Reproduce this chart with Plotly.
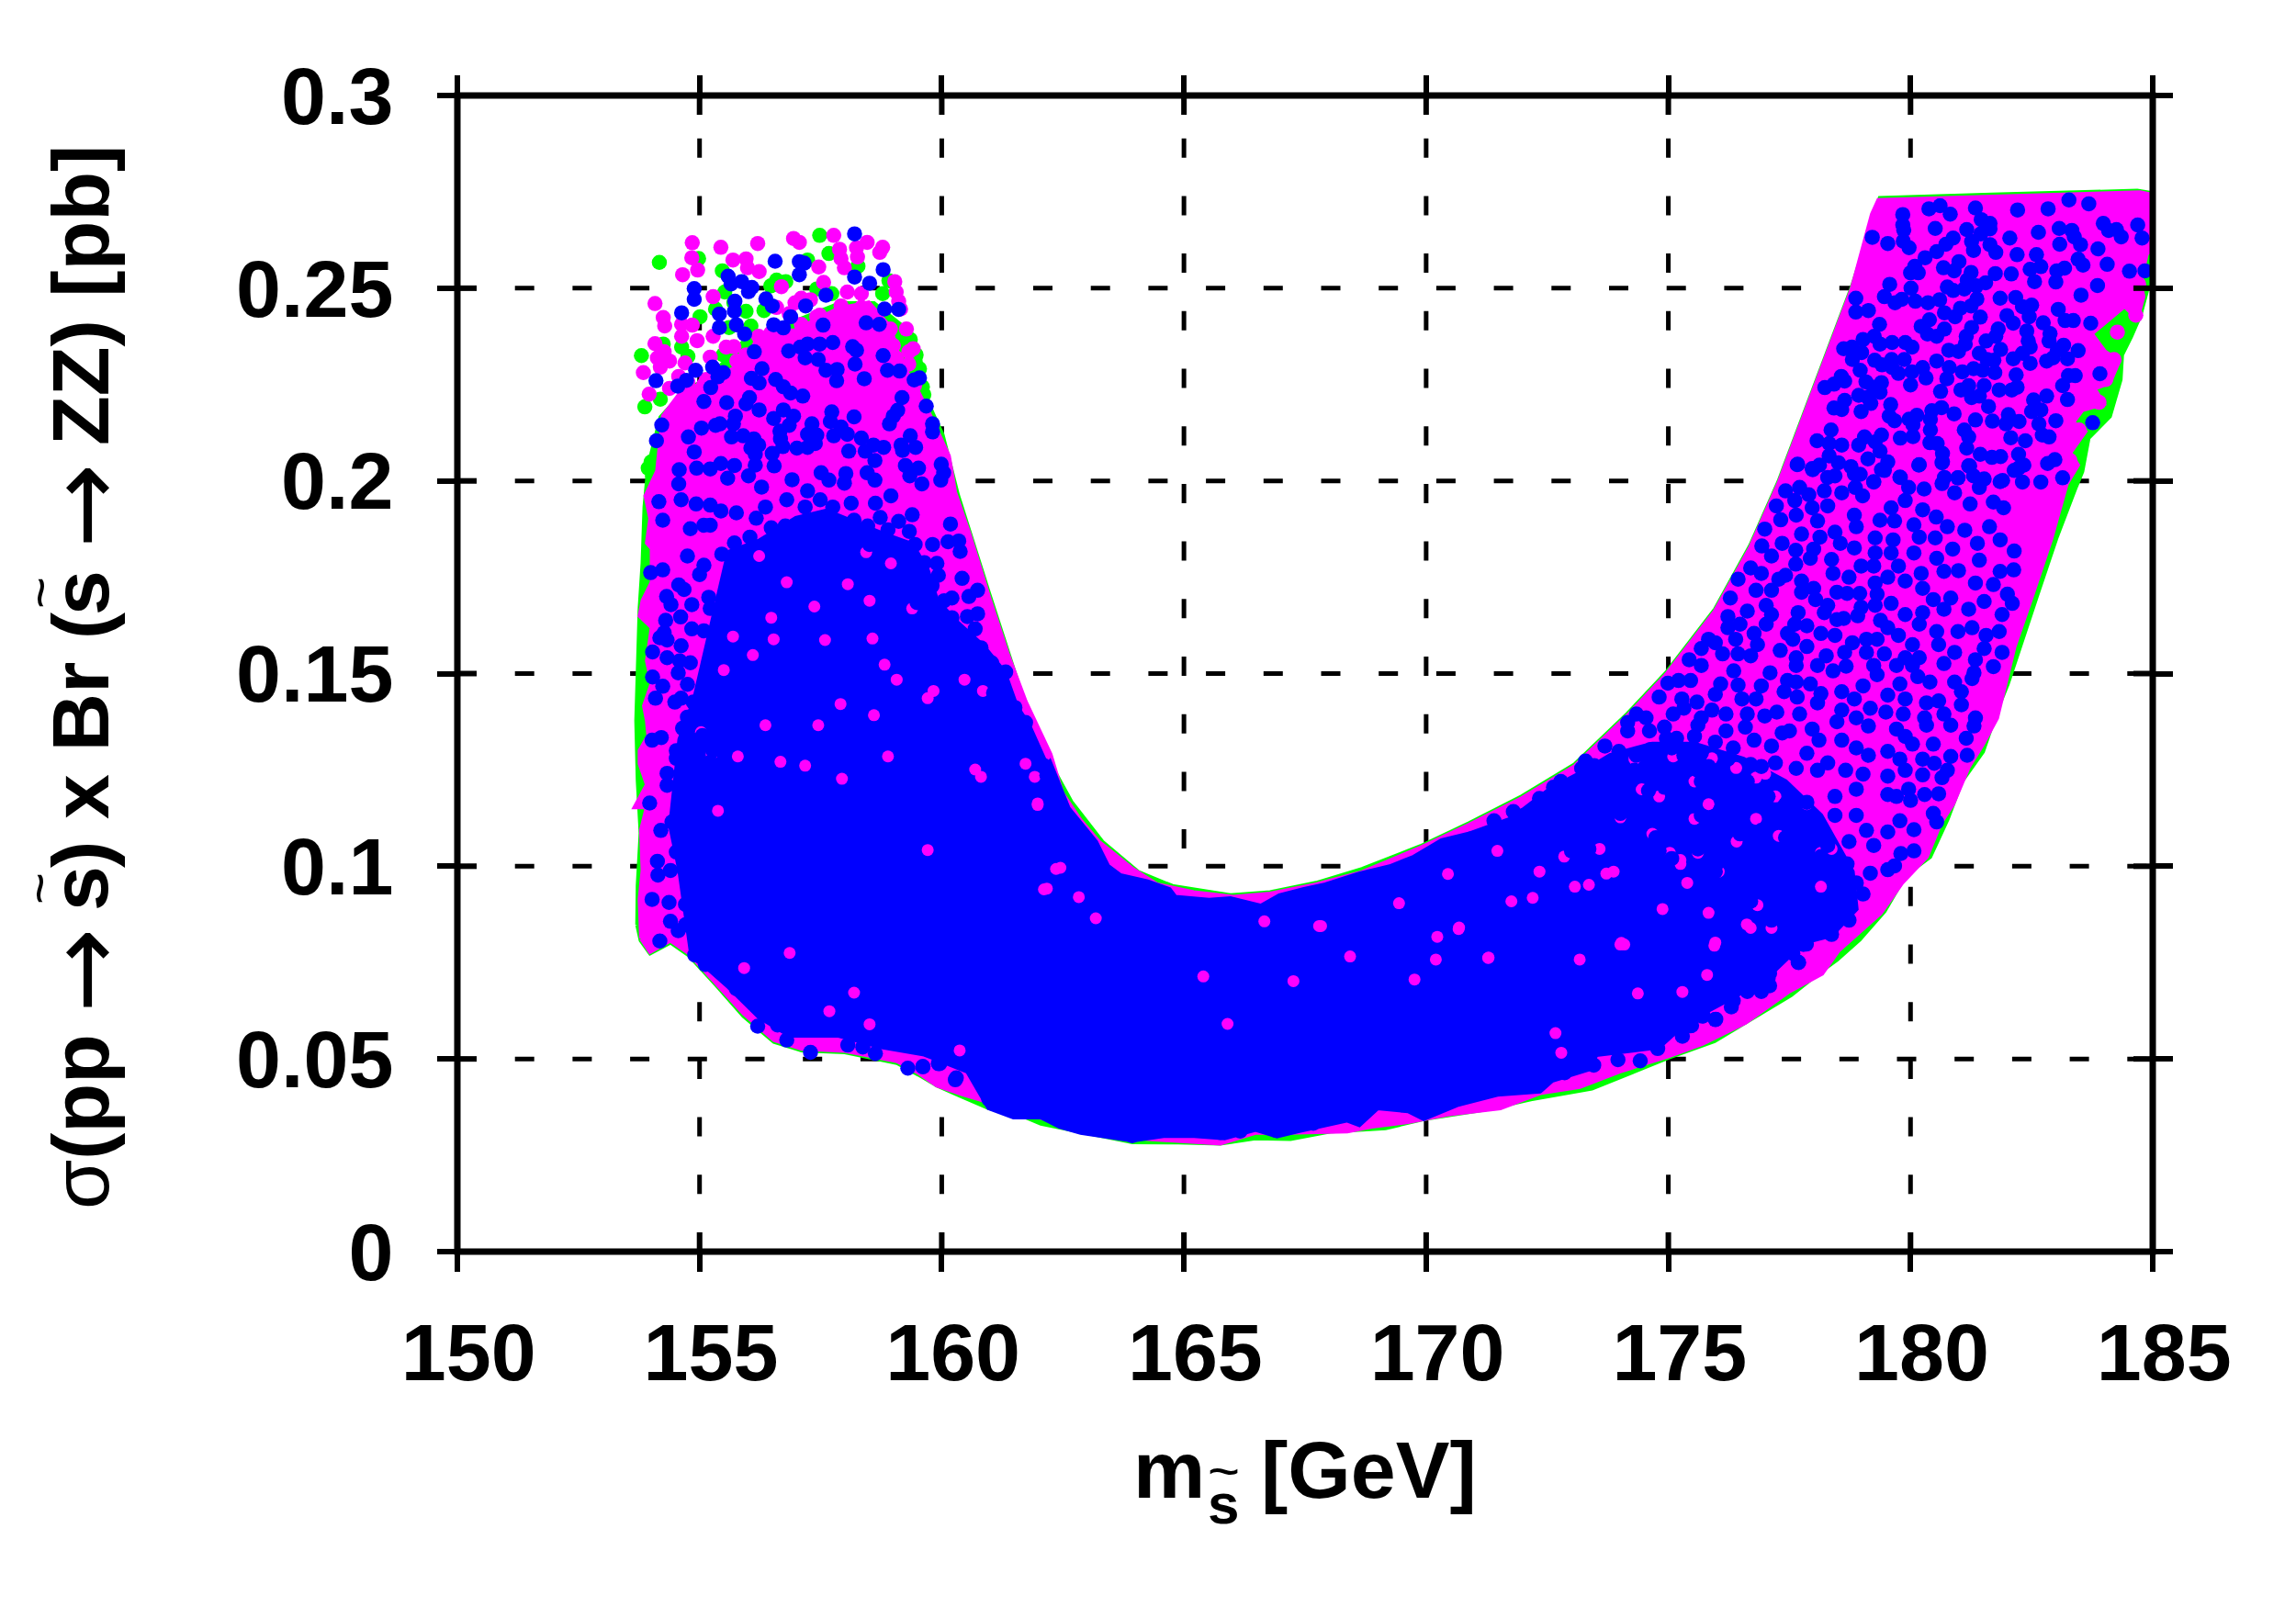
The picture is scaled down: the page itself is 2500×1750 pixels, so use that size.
import plotly.graph_objects as go

x_ticks = [150, 155, 160, 165, 170, 175, 180, 185]
y_ticks = [0, 0.05, 0.1, 0.15, 0.2, 0.25, 0.3]
y_tick_text = ["0", "0.05", "0.1", "0.15", "0.2", "0.25", "0.3"]

green_hull = [(153.72,.0848),(153.73,.095),(153.79,.1086),(153.73,.1223),(153.7,.1377),(153.73,.1541),(153.77,.167),(153.83,.1787),(153.87,.1932),(153.95,.204),(154.2,.2165),(154.6,.222),(155.3,.228),(155.9,.236),(156.9,.241),(157.9,.246),(158.6,.246),(159.2,.24),(159.55,.232),(159.63,.2224),(160.01,.212),(160.2,.2025),(160.33,.1962),(160.97,.1708),(161.48,.1504),(161.79,.1389),(162.29,.1254),(162.67,.1167),(163.31,.1063),(164.06,.0984),(164.76,.0948),(165.96,.0924),(166.78,.0932),(167.73,.0956),(168.68,.0992),(169.88,.1051),(170.89,.1111),(171.98,.1181),(173.07,.1264),(174.16,.1395),(174.96,.1502),(175.97,.1667),(176.7,.1833),(177.28,.1998),(178.8,.2505),(179.37,.2733),(181.68,.2742),(184.68,.2752),(185.09,.2744),(185.1,.2641),(185.06,.2581),(184.74,.243),(184.55,.2375),(184.36,.2327),(184.33,.2263),(184.11,.2168),(183.67,.2112),(183.54,.2025),(183.41,.1985),(183.0,.185),(182.6,.17),(182.25,.157),(182,.1473),(181.78,.1405),(181.49,.1298),(181.05,.122),(180.76,.1123),(180.4,.1025),(179.89,.0977),(179.46,.0884),(178.95,.0811),(178.48,.0758),(178.17,.073),(177.53,.0666),(176.59,.0595),(175.95,.0547),(175,.0504),(174.18,.0464),(173.42,.0424),(172.16,.0396),(171.21,.0369),(169.95,.0345),(169.16,.0321),(168.05,.0313),(167.2,.0293),(166.47,.0295),(165.75,.0281),(164.89,.0284),(163.94,.0285),(163.31,.0301),(162.68,.0317),(162.05,.0333),(161.67,.0353),(160.97,.0373),(160.4,.0404),(159.9,.0432),(159.52,.046),(159.08,.049),(158,.0518),(157.11,.0523),(156.54,.0545),(155.91,.0612),(155.35,.0692),(154.78,.077),(154.4,.0803),(153.98,.0775),(153.79,.0808)]

green_points = [(154.17,.2567),(157.48,.2637),(157.67,.259),(154.98,.2577),(155.47,.2545),(157.23,.2573),(156.59,.2521),(156.78,.2517),(156.47,.2506),(155.52,.249),(155.71,.2462),(155.33,.2446),(155.96,.244),(155.01,.2426),(155.61,.2398),(156.06,.2402),(154.63,.2347),(154.76,.2323),(154.25,.2355),(153.8,.2325),(155.49,.2327),(153.87,.2192),(154.19,.2212),(158.78,.2486),(158.27,.2557),(158.91,.2519),(157.42,.2498),(157.73,.2486),(158.62,.2426),(159.35,.2367),(159.47,.2327),(159.54,.2291),(159.6,.2244),(159.63,.2224),(154,.2049),(153.94,.2033),(154.03,.2013),(156.33,.2442)]

magenta_hull = [(153.8,.0813),(153.77,.0915),(153.83,.0989),(153.8,.1095),(153.92,.1154),(153.67,.1154),(153.92,.1212),(153.77,.1266),(153.77,.13),(153.95,.1339),(153.92,.1378),(153.86,.1416),(154.02,.1475),(153.92,.1533),(154.02,.162),(153.77,.165),(153.83,.1689),(154.02,.1737),(154.02,.1825),(153.92,.1839),(153.99,.1903),(153.89,.1961),(154.13,.2025),(154.25,.2168),(154.63,.2232),(155.14,.2256),(155.77,.2295),(156.03,.2319),(156.22,.2383),(156.97,.239),(157.86,.2446),(158.49,.2462),(158.94,.2398),(159.13,.2311),(159.44,.2248),(159.76,.2168),(160.14,.2065),(160.27,.197),(160.56,.1864),(160.75,.1786),(160.97,.1698),(161.35,.1553),(161.73,.1426),(162.24,.129),(162.48,.119),(162.86,.1119),(163.24,.1063),(163.94,.0992),(164.44,.0952),(165.2,.0932),(166.02,.092),(166.78,.0928),(167.73,.0952),(168.68,.0984),(169.88,.1047),(170.89,.1107),(171.98,.1176),(173.07,.1259),(174.16,.139),(174.96,.1497),(175.97,.1662),(176.7,.1828),(177.28,.1993),(178.8,.2501),(179.21,.2692),(179.34,.2728),(182.28,.2738),(184.74,.2748),(185.06,.274),(185.09,.2613),(184.87,.2589),(184.74,.2517),(184.8,.2478),(184.68,.2422),(184.42,.2454),(183.98,.2406),(183.73,.2382),(184.01,.2335),(184.3,.2311),(184.11,.2255),(183.79,.224),(183.98,.22),(183.54,.2184),(183.35,.2152),(183.6,.2128),(183.29,.2073),(183.45,.2041),(183.22,.1993),(182.9,.185),(182.5,.17),(182.14,.157),(181.78,.1385),(181.49,.1317),(181.2,.1259),(180.87,.1161),(180.62,.1113),(180.33,.1025),(179.82,.0957),(179.38,.0879),(178.51,.0782),(178.17,.0722),(177.47,.0674),(176.59,.0595),(175.7,.054),(175,.0508),(173.99,.0468),(173.17,.0428),(172.35,.0412),(171.53,.0373),(170.45,.0357),(169.63,.0337),(168.88,.0325),(168.37,.0313),(167.1,.0309),(166.47,.0309),(165.75,.0281),(165.3,.0285),(164.26,.0293),(163.3,.031),(162.4,.0335),(161.6,.0365),(160.9,.039),(160.4,.041),(159.9,.0432),(159.52,.0465),(159.08,.0495),(158,.0522),(157.11,.0527),(156.54,.055),(155.91,.0619),(155.35,.0698),(154.78,.0775),(154.4,.0808),(153.98,.0779)]

magenta_points = [(154.85,.2618),(155.44,.2606),(156.2,.2616),(156.94,.2629),(157.06,.2619),(157.77,.2637),(154.84,.2579),(154.96,.2547),(154.65,.2535),(155.69,.2573),(155.96,.2576),(156.23,.2543),(155.99,.2553),(157.89,.2601),(157.92,.2577),(157.99,.2553),(158.26,.2581),(158.46,.2619),(158.24,.2605),(158.78,.2606),(158.72,.2593),(157.46,.2555),(157.56,.2515),(156.69,.2504),(159.03,.2517),(159.06,.249),(159.11,.2466),(159.15,.2446),(154.08,.246),(155.28,.2478),(154.25,.2424),(154.28,.2402),(154.63,.2406),(154.85,.2404),(154.63,.2375),(154.95,.2364),(155.28,.2375),(154.08,.2356),(154.27,.2335),(153.84,.2281),(153.96,.2225),(154.28,.2315),(154.7,.2306),(155.22,.2321),(155.55,.2347),(155.71,.2348),(159.27,.2394),(159.32,.2335),(159.41,.2343),(158.94,.2394),(158.05,.249),(158.34,.2486),(157.1,.2474),(156.97,.2462),(157.29,.247),(157.92,.2454),(158.34,.245),(156.59,.245),(157.42,.2426),(156.85,.2434),(155.77,.2311),(155.96,.2327),(156.22,.2375),(156.47,.2383),(156.34,.2351),(155.46,.2256),(155.14,.2263),(154.76,.2256),(154.38,.224),(154.19,.2295),(154.13,.2319),(154.38,.2311),(154.57,.2271),(155.08,.2248),(157.1,.2406),(157.48,.243),(158.18,.2422),(158.75,.2359),(159,.2351),(159.06,.2319),(159.32,.2303),(159.44,.2248),(184.65,.243),(184.27,.2386),(184.2,.2315),(183.89,.2204),(184.03,.2263),(183.48,.2132),(183.29,.2053),(184.71,.251)]

blue_core = [(155.6,.1815),(156.23,.1844),(156.99,.1903),(157.62,.1922),(158.76,.1864),(159.39,.1835),(159.71,.1767),(159.9,.1689),(160.34,.163),(160.85,.1572),(161.29,.1504),(161.54,.1416),(161.79,.1368),(162.17,.1261),(162.23,.127),(162.61,.1151),(163.18,.1063),(163.43,.1),(163.69,.0976),(164.25,.096),(164.7,.094),(164.82,.092),(165.52,.0912),(165.96,.0916),(166.59,.0897),(166.97,.0924),(167.48,.094),(167.92,.0952),(168.62,.098),(169.25,.0999),(169.75,.1024),(170.32,.1067),(170.89,.1084),(172.71,.1064),(173.43,.1006),(174.67,.0967),(175.61,.0909),(176.55,.0831),(176.95,.075),(176.2,.0651),(175.51,.0643),(175,.0595),(174.63,.0531),(173.55,.0531),(173.42,.0476),(172.6,.0444),(172.35,.0416),(171.47,.0408),(170.64,.0381),(169.95,.0345),(169.63,.0365),(169,.0373),(168.62,.0329),(168.37,.0341),(167.36,.0313),(166.92,.03),(166.47,.0317),(165.84,.0295),(165.21,.0301),(164.58,.0301),(163.94,.0289),(163.44,.0297),(162.87,.0309),(162.43,.0325),(162.05,.0349),(161.48,.0349),(160.97,.0373),(160.53,.0468),(159.64,.0512),(158.76,.0531),(157.87,.0561),(156.86,.0561),(156.23,.0609),(155.6,.0687),(155.16,.0736),(154.84,.0765),(154.59,.0989),(154.4,.1105),(154.59,.1329),(154.9,.1436),(155.16,.1572)]

blue_shoulder = [(170.89,.1084),(171.76,.1123),(172.56,.12),(173.29,.1249),(173.8,.1288),(174.67,.1317),(175.54,.1317),(176.55,.1278),(177.42,.122),(178.15,.1132),(178.8,.0986),(178.88,.0889),(178.37,.0821),(177.79,.0802),(177.06,.0714),(176.41,.0665),(175.39,.0597),(174.81,.0531),(172.8,.05),(171,.08)]

magenta_gaps = [(156.23,.1805),(157.37,.1674),(156.48,.1645),(156.8,.1737),(158.06,.1732),(158.51,.1689),(158.95,.1786),(158.44,.1815),(155.69,.1596),(156.53,.1589),(157.59,.1587),(159.39,.1669),(155.5,.1509),(156.1,.1548),(158.57,.1591),(158.82,.1523),(159.07,.1484),(159.83,.1455),(159.71,.1436),(160.47,.1484),(160.85,.1455),(158.6,.1392),(157.91,.1421),(157.45,.1366),(156.36,.1366),(155.03,.1348),(155.25,.129),(155.79,.1285),(157.18,.1261),(156.67,.1271),(157.94,.1227),(158.89,.1285),(160.69,.1251),(160.81,.1232),(161.73,.1266),(161.92,.1232),(161.98,.1159),(159.71,.1042),(162.36,.0993),(162.17,.0942),(158.19,.0672),(157.68,.0624),(158.51,.059),(155.92,.0736),(155.38,.1144),(160.37,.0522),(156.86,.0775),(162.11,.094),(162.45,.0996),(163.18,.0865),(161.98,.1163),(167.79,.0845),(169.44,.0904),(170.45,.098),(170.67,.0837),(166.66,.0857),(170.23,.0817),(162.83,.092),(165.9,.0591),(168.43,.0766),(167.26,.0702),(167.83,.0845),(165.4,.0714),(170.68,.0841),(171.28,.0762),(174.03,.0801),(172.79,.0516),(174.37,.067),(175.29,.0674),(176.62,.0849),(170.2,.0758),(169.76,.0706),(172.67,.0567),(173.17,.0758),(175.95,.0794),(175.8,.0718),(172.2,.0918),(176.04,.0986),(173.72,.0981),(173.36,.0952),(171.29,.0763),(174.01,.0797),(175.83,.0879),(176.84,.0899),(175.25,.1016),(173.07,.1125),(173.58,.1045),(172.85,.1025),(171.47,.104),(174.01,.1127),(174.45,.12),(174.81,.1181),(174.67,.1084),(175.61,.1035),(176.41,.1064),(175.25,.1006),(175.03,.1035),(175.83,.1161),(176.81,.123),(177.21,.1181),(176.81,.1123),(177.28,.1079),(177.86,.1161),(178.15,.1035),(178.58,.121),(178.69,.1132),(178.37,.1045),(178.15,.0947),(177.79,.0986),(177.13,.084),(176.7,.084),(175.97,.0802),(174.09,.0797),(174.88,.0889),(173.87,.0986),(175.39,.0957),(172.34,.0986),(171.76,.0909),(173.07,.0947),(175.54,.1123),(175.54,.122),(174.3,.1278),(175.1,.1285),(175.9,.128),(176.4,.1255),(177,.124)]

blue_upper_left = [(158.2,.2641),(156.56,.257),(157.06,.2569),(157.16,.2565),(157.06,.2535),(158.79,.2548),(158.2,.2529),(158.51,.2513),(155.59,.2531),(155.65,.2511),(155.87,.2517),(156.08,.2502),(156.01,.2491),(154.89,.2499),(154.89,.2471),(156.37,.2472),(156.5,.2454),(155.73,.2466),(155.72,.244),(157.61,.2482),(157.19,.2454),(154.63,.2436),(155.41,.2433),(155.41,.2398),(155.76,.2405),(155.93,.2381),(156.88,.2426),(156.53,.2405),(156.73,.2397),(157.55,.2404),(158.44,.241),(158.71,.2406),(158.82,.2446),(159.11,.2445),(156.13,.2335),(156.84,.2337),(157.08,.2347),(157.23,.2355),(157.48,.2355),(157.75,.2359),(158.16,.2348),(158.24,.2339),(158.79,.2325),(157.18,.2319),(157.45,.2315),(157.61,.2287),(157.84,.2289),(157.83,.226),(158.21,.2303),(158.4,.2265),(158.88,.2287),(159.13,.2285),(159.43,.2262),(159.54,.2267),(154.92,.2287),(155.27,.2295),(155.49,.2281),(155.38,.227),(155.23,.2242),(154.73,.2261),(154.55,.2246),(154.1,.226),(156.29,.2291),(156.07,.2266),(156.23,.2254),(156.57,.2263),(156.73,.2244),(156.88,.2228),(157.13,.222),(159.18,.2216),(159.68,.2194),(159.09,.2183),(159,.2168),(158.92,.2148),(159.81,.2148),(159.81,.2127),(155.09,.2206),(155.56,.2203),(156.03,.2216),(155.96,.22),(156.23,.2184),(155.74,.2168),(155.7,.2148),(156.53,.2162),(156.73,.2184),(156.94,.2168),(156.85,.2144),(157.73,.2179),(157.7,.2154),(158.19,.2166),(157.32,.2148),(154.22,.2145),(154.11,.2104),(154.77,.2114),(155.04,.2137),(155.33,.2144),(155.42,.2148),(155.66,.2114),(155.9,.2117),(156.12,.2109),(156.22,.2093),(156.06,.2085),(156.15,.2069),(156.66,.2129),(156.67,.2109),(156.72,.2089),(156.5,.2071),(157.01,.2085),(157.23,.2087),(157.39,.2097),(157.23,.2121),(157.42,.2119),(157.77,.2117),(157.92,.214),(158.05,.2121),(158.34,.2111),(158.08,.2077),(158.42,.2077),(158.59,.2093),(158.8,.2087),(159.16,.2093),(159.35,.2117),(159.46,.2087),(159.19,.2079),(154.89,.2075),(154.94,.2033),(154.58,.2029),(154.57,.1992),(155.22,.2031),(155.44,.2045),(155.72,.204),(155.58,.2007),(156.15,.2041),(156.54,.2039),(156.01,.2013),(156.28,.1984),(156.91,.2003),(157.51,.2021),(157.67,.2002),(158.02,.2019),(157.99,.1994),(158.62,.2002),(158.46,.2021),(158.62,.2053),(159.25,.204),(159.52,.2033),(159.34,.2013),(159.59,.1992),(159.99,.2043),(160.04,.2021),(159.98,.2002),(157.23,.1974)]

blue_left = [(154.16,.1946),(154.24,.1898),(154.62,.1951),(154.81,.1876),(155.09,.1885),(155.22,.1885),(154.93,.194),(155.22,.1937),(155.44,.1922),(155.76,.1917),(156.17,.1903),(156.36,.1932),(156.48,.1878),(156.99,.1864),(154.75,.1805),(155,.1757),(155.09,.1781),(153.99,.1762),(154.24,.1769),(155.46,.181),(155.72,.1839),(154.57,.173),(154.68,.1718),(154.32,.17),(154.41,.1679),(154.84,.1679),(154.61,.1647),(154.3,.1638),(155.22,.1669),(155.19,.1698),(154.84,.1616),(155.09,.1611),(154.27,.1606),(154.18,.1593),(154.33,.1587),(154.62,.1572),(154.03,.1556),(154.33,.1541),(154.59,.1533),(154.56,.1502),(154.81,.1528),(154.03,.1491),(154.24,.1467),(154.75,.1472),(154.09,.1436),(154.49,.1426),(154.62,.1436),(154.87,.1426),(154.75,.1387),(154.65,.1358),(154.02,.1327),(154.21,.1334),(155.06,.1339),(154.52,.13),(154.52,.128),(154.97,.127),(155.28,.13),(155.22,.127),(154.97,.1241),(154.33,.1241),(154.33,.121),(154.71,.1212),(154.61,.1188),(154.93,.1222),(153.97,.1164),(154.78,.1144),(154.2,.1093),(154.43,.1115),(154.52,.1037),(154.13,.1013),(154.14,.0977),(154.4,.0989),(154.37,.0906),(154.02,.0914),(154.71,.0901),(154.4,.0857),(154.56,.0833),(154.71,.0848),(154.18,.0806),(154.9,.077),(155.12,.0745),(155.76,.0682),(156.2,.0585),(156.61,.0588),(156.8,.0549),(157.29,.0517),(157.68,.058),(158.06,.0536),(158.37,.0531),(158.63,.0514),(159.3,.0476),(159.61,.048),(159.96,.0488),(160.3,.0451),(160.18,.1888),(160.13,.1842),(160.35,.1844),(160.38,.1817),(160.42,.1747),(160.56,.17),(160.74,.1716),(160.53,.1648),(160.74,.1655),(159.81,.1835),(159.64,.1788),(159.9,.1786),(159.93,.1755),(159.33,.1869),(159.45,.1835),(159.11,.1895),(158.89,.1873),(158.73,.1905),(158.47,.1883),(158.19,.1898),(159.8,.1728),(159.49,.1684),(160.05,.1689),(160.21,.1696),(160.09,.1645),(159.68,.1648),(160.21,.1645),(160.69,.1616),(160.81,.1567),(161.03,.1528),(161.32,.1504),(161.07,.145),(161.51,.1412),(161.73,.1373),(162.11,.1261),(162.17,.1236),(162.3,.1202),(156.8,.1951),(157.18,.1932),(157.49,.1951),(157.75,.1932),(157.62,.1864),(158.19,.1854),(158.51,.1835),(157.81,.1844),(157.18,.1873),(156.77,.1883),(156.04,.1854),(155.79,.1815),(158.63,.1942),(158.95,.1961),(159.39,.1912),(158.13,.1942)]

blue_bottom = [(173.96,.0498),(174.42,.0495),(174.78,.0527),(175.29,.0559),(175.26,.0587),(175.48,.0587),(175.7,.0611),(175.98,.0603),(176.3,.0635),(176.24,.0686),(176.62,.0678),(176.9,.0682),(177.09,.069),(177.09,.0722),(177.19,.0774),(177.69,.075),(177.57,.0774),(177.85,.0798),(178.36,.0825),(178.04,.0849),(177.47,.0833),(173.46,.0484),(172.95,.0476),(172.6,.046),(172.86,.0464),(172.32,.0432),(171.84,.044),(171.47,.0424),(170.96,.0416),(170.64,.0396),(170.36,.0412),(169.95,.0369),(159.61,.048),(160.28,.0446),(159.93,.0488),(160.97,.0396),(161.48,.0369),(162.02,.0365),(162.43,.0345),(162.89,.0325),(163.45,.0313),(163.91,.0317),(163.93,.0301),(164.26,.0329),(164.61,.0321),(164.94,.0317),(165.21,.0317),(165.75,.0309),(166.16,.0313),(166.45,.0333),(166.9,.0315),(167.36,.0329),(167.67,.0333),(168.6,.0353)]

blue_middle = [(177.66,.2042),(177.97,.2032),(178.44,.2013),(178.84,.2018),(179.24,.1998),(179.46,.2027),(179.78,.201),(179.96,.1983),(180.28,.1979),(180.18,.2042),(180.65,.2047),(180.65,.1993),(180.98,.2008),(181.2,.2039),(181.42,.1983),(181.85,.1998),(182.14,.2027),(177.42,.1974),(177.71,.1983),(177.9,.1964),(178.22,.1974),(178.58,.1969),(178.86,.1983),(179.01,.1961),(177.23,.1935),(177.61,.1949),(177.97,.193),(178.29,.1935),(177.32,.1899),(177.64,.1911),(178.08,.1896),(178.84,.1911),(179.37,.1898),(179.6,.193),(179.89,.1949),(180.25,.1925),(180.53,.1906),(179.67,.1896),(180.07,.1886),(180.91,.1969),(181.23,.194),(181.71,.1945),(181.92,.193),(180.76,.1881),(181.12,.1872),(181.63,.1881),(176.99,.1875),(176.93,.1831),(177.13,.1805),(177.35,.1838),(177.63,.182),(177.75,.1862),(178.13,.1854),(178.55,.1838),(178.84,.1826),(178.44,.1867),(178.88,.1881),(179.27,.1852),(179.64,.1847),(180.18,.1854),(180.51,.1852),(180.87,.1823),(181.38,.1838),(181.85,.1847),(182.14,.1818),(177.93,.1799),(178,.1823),(178.37,.1796),(179.27,.1813),(179.6,.1813),(180.07,.1813),(180.54,.1799),(181.42,.1794),(176.7,.1774),(176.44,.1745),(176.92,.176),(177.28,.1745),(177.42,.1755),(177.63,.1784),(178.4,.176),(178.73,.175),(178.98,.1779),(179.24,.1779),(179.75,.1779),(180.22,.176),(180.69,.1765),(180.99,.1767),(181.85,.1765),(182.13,.1769),(177.75,.174),(177.75,.1711),(178,.1721),(178.48,.1711),(178.69,.1708),(178.95,.1708),(176.81,.1716),(177.13,.1716),(179.27,.1735),(179.53,.175),(179.31,.1706),(179.89,.174),(180.25,.1721),(180.47,.1692),(180.83,.1696),(181.34,.1735),(181.71,.1731),(182,.1706),(176.28,.1696),(176.63,.1662),(177.02,.1677),(177.13,.1653),(177.68,.1658),(178.04,.1692),(178.29,.1677),(178.22,.1658),(178.98,.1672),(178.91,.165),(179.6,.1682),(179.27,.1677),(179.89,.1653),(180.25,.1658),(180.69,.1667),(181.2,.1667),(181.52,.1687),(182.1,.1682),(181.89,.1653),(176.23,.1648),(176.23,.1619),(176.48,.1628),(177.02,.1628),(177.61,.1628),(177.46,.1604),(177.86,.1624),(178.48,.164),(178.62,.1643),(179.38,.1638),(179.09,.1589),(179.53,.1619),(180.18,.1628),(180.54,.1609),(180.98,.1609),(181.27,.1619),(181.56,.1599),(181.83,.1609),(175.83,.1589),(175.97,.158),(175.68,.1565),(176.39,.1589),(176.77,.1604),(177.57,.1589),(178.15,.1604),(178.44,.1599),(178.8,.158),(179.31,.1589),(179.75,.1599),(180.04,.1575),(175.43,.1536),(176.12,.1551),(176.44,.1551),(176.7,.1546),(176.84,.1575),(177.31,.156),(177.64,.1541),(177.86,.157),(178.26,.1546),(178.64,.1555),(179.09,.1555),(179.46,.1551),(179.89,.1541),(180.18,.1541),(180.58,.1575),(180.91,.1555),(181.52,.1565),(181.89,.1555),(175.68,.1521),(176.35,.1507),(177.1,.1502),(177.64,.1521),(178.08,.1521),(178.67,.1519),(179.24,.1521),(179.71,.1521),(180.04,.1521),(180.69,.1526),(181.34,.1536),(181.71,.1518),(181.31,.1502),(174.99,.1475),(175.21,.1482),(175.46,.1482),(176.08,.1473),(176.92,.1468),(176.44,.147),(177.46,.1482),(177.64,.1478),(177.93,.1473),(178.4,.1507),(179.02,.1468),(179.31,.1497),(179.78,.1473),(180.15,.1492),(180.4,.1478),(180.91,.1478),(181.27,.1487),(175.97,.1446),(174.81,.1439),(175.28,.1434),(175.59,.1426),(176.52,.1434),(176.81,.1434),(177.39,.1453),(177.66,.1439),(178.15,.1448),(178.58,.1453),(178.84,.1434),(179.53,.1444),(179.89,.1434),(180.33,.1424),(180.58,.1429),(181.05,.1453),(175.1,.1395),(175.32,.141),(175.9,.1405),(176.19,.1395),(176.63,.1395),(176.99,.139),(177.24,.14),(177.71,.1395),(178.08,.1424),(178.58,.1405),(179.17,.141),(179.49,.14),(179.85,.1395),(180.29,.1385),(180.69,.1395),(181.05,.1419),(181.34,.1385),(174.16,.1373),(174.16,.1351),(174.34,.1395),(174.54,.1385),(174.61,.1351),(174.92,.1361),(175.61,.1366),(175.68,.1385),(176.59,.1361),(176.19,.1351),(177.35,.1346),(177.5,.1351),(177.97,.1356),(178.48,.1375),(178.88,.1385),(179.13,.1364),(179.71,.1356),(180.33,.1366),(180.83,.1366),(181.31,.1364),(174.96,.1332),(175.17,.1332),(175.54,.1337),(175.97,.1322),(176.34,.1307),(176.77,.1327),(177.13,.1312),(177.86,.1293),(178.11,.1327),(178.58,.1327),(178.88,.1307),(180.04,.1317),(179.89,.1337),(180.47,.1317),(181.15,.1332),(173.69,.1312),(173.98,.1298),(174.34,.1288),(174.63,.1303),(175.07,.1307),(175.32,.1288),(175.68,.1293),(176.23,.1278),(176.7,.1264),(176.92,.1259),(177.64,.1254),(178.08,.1249),(178.66,.1249),(179.13,.1288),(179.53,.1298),(179.78,.1278),(180.25,.1278),(180.83,.1285),(181.17,.1288),(173.29,.1273),(173.21,.1254),(173.47,.1261),(173.72,.1254),(174.01,.1268),(174.3,.1249),(174.92,.1244),(175.25,.1239),(175.61,.1249),(175.83,.1259),(177.21,.1268),(178.29,.1268),(179.02,.1239),(179.53,.1234),(179.89,.1249),(180.25,.1237),(180.49,.1267),(180.76,.1249),(180.65,.123),(172.78,.122),(172.63,.1205),(173.07,.121),(173.21,.1186),(173.47,.1142),(173.65,.1176),(174.23,.122),(174.59,.1196),(174.92,.1205),(175.32,.1176),(175.5,.1157),(175.68,.122),(176.12,.121),(176.63,.122),(177.06,.1181),(177.42,.1161),(177.86,.1166),(178.44,.1181),(178.88,.12),(179.53,.1186),(180,.1171),(180.29,.1186),(180.58,.1188),(179.96,.12),(179.71,.1181),(172.34,.1176),(171.8,.1142),(172.02,.1132),(172.63,.1166),(172.85,.1157),(173.07,.1125),(174.01,.1137),(174.88,.1137),(175.25,.1123),(175.68,.1132),(176.08,.1147),(176.55,.1152),(176.84,.1161),(177.28,.1132),(177.86,.1123),(178.44,.1132),(178.88,.1132),(179.09,.1093),(179.53,.1089),(180.07,.1095),(180.47,.1137),(180.54,.1115),(179.78,.1118),(171.4,.1118),(171.84,.1103),(172.34,.1098),(172.78,.1093),(173.72,.1098),(173.8,.1067),(173.5,.1084),(174.09,.1074),(174.38,.1084),(174.74,.1074),(175.39,.1079),(175.97,.1084),(176.48,.1084),(176.92,.1093),(177.42,.1074),(177.86,.1084),(178.29,.1054),(178.73,.1064),(179.24,.1054),(179.8,.1033),(180.07,.104),(171.4,.1074),(171.98,.1045),(172.56,.1054),(173,.104),(173.36,.1045),(174.01,.1035),(174.81,.104),(175.07,.102),(175.61,.1045),(176.04,.1011),(176.63,.1035),(177.13,.103),(177.64,.1035),(178.15,.1025),(178.69,.1006),(179.17,.0982),(179.53,.0991),(179.67,.1001),(176.55,.0977),(175.97,.0986),(177.06,.0977),(177.79,.0986),(178.37,.0977),(178.88,.0957),(179.02,.0928),(178.51,.0918),(178.73,.086),(178.15,.0909),(178.37,.0823),(177.86,.086),(178.08,.0836),(177.42,.0918),(177.13,.086),(176.7,.0909),(176.12,.0938),(177.42,.0831),(177.79,.0797),(177.13,.0772),(177.68,.0751),(176.92,.0811),(176.63,.0675),(176.92,.0675),(176.41,.0714),(176.26,.0685),(177.06,.0709),(176.34,.0651),(175.97,.0602),(175.46,.0586),(175.25,.0586),(175.72,.0612)]

blue_upper_right = [(179.84,.2691),(180.38,.2706),(180.61,.2714),(180.82,.2692),(181.34,.2708),(182.21,.2703),(182.84,.2706),(183.27,.2729),(183.68,.2719),(179.84,.2664),(179.86,.2651),(180.51,.2655),(181.16,.2652),(181.46,.2678),(181.64,.2668),(181.64,.2654),(182.64,.2645),(183.07,.2655),(183.98,.2668),(184.09,.265),(184.25,.2652),(184.35,.2633),(184.69,.2664),(184.78,.263),(179.21,.2632),(179.53,.2616),(179.85,.2622),(179.97,.2605),(180.88,.263),(180.73,.2614),(180.54,.2595),(180.3,.2579),(181.26,.2621),(181.3,.2598),(181.45,.2641),(181.64,.2613),(181.76,.2593),(182.05,.263),(182.2,.2587),(183.33,.265),(183.38,.2633),(183.51,.2613),(183.08,.2614),(183.87,.2602),(183.46,.2575),(183.56,.256),(184.06,.2562),(184.52,.2544),(184.84,.2545),(182.6,.2587),(182.47,.2549),(182.69,.2556),(183.02,.2545),(183.18,.2552),(180.09,.2557),(180,.254),(180.16,.254),(180.68,.2553),(180.9,.2545),(181,.2569),(181.25,.2541),(181.75,.2538),(182.08,.2537),(182.56,.2517),(183,.2516),(183.86,.2507),(181.55,.2514),(181.36,.2506),(181.17,.2521),(180.76,.2503),(180.88,.2494),(181.11,.2498),(179.57,.251),(180.01,.25),(179.46,.2478),(179.68,.2462),(179.82,.2471),(180.1,.2466),(180.36,.2462),(180.6,.247),(178.87,.2474),(178.87,.2438),(179.13,.2442),(181.37,.2472),(181.85,.2474),(182.17,.2476),(183.52,.2482),(180.7,.2436),(181.03,.2448),(180.92,.2426),(181.25,.2454),(181.44,.2425),(181.99,.2429),(182.12,.2409),(182.31,.2452),(182.5,.2456),(182.45,.2426),(182.74,.241),(183.05,.2445),(183.19,.2416),(183.36,.2416),(183.72,.2409),(179.36,.2406),(180.39,.2418),(180.22,.2401),(180.35,.2381),(180.54,.2375),(180.7,.2394),(181.26,.2398),(181.15,.2375),(181.13,.2355),(181.81,.2394),(181.76,.2375),(181.56,.2363),(182.4,.2389),(182.43,.2363),(182.88,.2382),(182.86,.2363),(183.16,.2352),(183.46,.2338),(179.02,.2367),(179.25,.2375),(179.37,.2355),(179.62,.2359),(179.89,.2359),(180.03,.2347),(178.62,.2343),(178.79,.2347),(178.99,.2333),(178.8,.2315),(180.79,.2339),(180.99,.2336),(181.86,.2341),(181.42,.2331),(181.58,.2315),(181.72,.2313),(182.12,.2317),(182.31,.2331),(182.47,.2347),(182.47,.2305),(182.81,.2311),(182.94,.2319),(183.03,.2339),(183.24,.2317),(179.26,.2313),(179.41,.2301),(179.61,.2315),(179.87,.2315),(179.62,.2294),(179.75,.2279),(180.03,.2283),(180.25,.2294),(180.32,.2267),(178.96,.2287),(180.54,.2311),(180.8,.2294),(180.75,.2265),(181.07,.2283),(181.3,.2291),(181.49,.2287),(181.74,.2281),(182.18,.2275),(183.26,.2273),(183.4,.2273),(183.91,.2278),(178.57,.2271),(178.64,.2259),(178.42,.2251),(178.23,.2242),(179.08,.2257),(179.4,.2255),(179.24,.2243),(180,.2249),(183.14,.2247),(181.2,.2247),(181.52,.2247),(181.83,.2236),(182.09,.2236),(182.2,.2243),(180.62,.2232),(181.04,.2236),(179.37,.223),(178.93,.2222),(179.12,.2217),(178.64,.2209),(178.42,.2189),(178.58,.2185),(178.98,.218),(179.18,.2201),(179.59,.2198),(179.56,.2168),(179.67,.2156),(179.97,.216),(180.13,.217),(180.05,.2146),(180.44,.2182),(180.41,.216),(180.64,.219),(180.9,.2174),(181.26,.2216),(181.42,.222),(181.61,.2193),(181.34,.2158),(181.69,.2155),(182.02,.2172),(181.97,.2148),(182.24,.2154),(182.54,.221),(182.81,.222),(183.24,.2211),(182.5,.218),(182.69,.2184),(182.65,.2148),(183,.2156),(183.76,.2151),(180.41,.2132),(181.11,.2132),(181.2,.2114),(178.36,.2132),(178.07,.2104),(178.32,.2097),(178.58,.2093),(178.93,.2093),(179.05,.2114),(179.4,.2119),(179.27,.2101),(179.79,.2111),(180.05,.2115),(180.4,.2099),(180.55,.2097),(181.16,.2085),(182.07,.2112),(182.37,.2104),(182.72,.2119),(182.86,.2114),(179.37,.2077),(179.12,.2057),(180.66,.2071),(180.66,.205),(181.44,.2069),(181.68,.2061),(181.86,.2063),(182.23,.2069),(182.34,.2041),(182.23,.2033),(182.83,.2045),(182.98,.2055),(177.67,.2043),(177.98,.2029),(178.12,.2041),(178.51,.2047),(178.32,.2065),(178.77,.2037),(178.96,.2017),(179.53,.2049),(179.4,.2029),(180.17,.2041),(181.22,.2039),(181.3,.2013),(181.52,.2005),(180.7,.2009),(180.98,.2008),(183.14,.2008),(179.79,.2009),(179.24,.1997),(178.29,.2009),(181.9,.2001),(182.31,.1997),(182.69,.1997)]

GREEN, MAGENTA, BLUE = "#00ff00", "#ff00ff", "#0000ff"
OFFSET = 8
W, H = 2500 - 2 * OFFSET, 1750 - 2 * OFFSET
L, R, T, B = 498 - OFFSET, 2344 - OFFSET, 104 - OFFSET, 1363 - OFFSET


def hull(pairs, color):
    xs = [p[0] for p in pairs] + [pairs[0][0]]
    ys = [p[1] for p in pairs] + [pairs[0][1]]
    return go.Scatter(x=xs, y=ys, mode="lines", fill="toself", fillcolor=color,
                      line=dict(color=color, width=5), cliponaxis=False, hoverinfo="skip", showlegend=False)


def dots(pairs, color, size=16.5):
    return go.Scatter(x=[p[0] for p in pairs], y=[p[1] for p in pairs], mode="markers",
                      marker=dict(color=color, size=size, line=dict(width=0)),
                      cliponaxis=False, hoverinfo="skip", showlegend=False)


fig = go.Figure()
fig.add_trace(hull(green_hull, GREEN))
fig.add_trace(dots(green_points, GREEN))
fig.add_trace(hull(magenta_hull, MAGENTA))
fig.add_trace(dots(magenta_points, MAGENTA))
fig.add_trace(hull(blue_core, BLUE))
fig.add_trace(hull(blue_shoulder, BLUE))
fig.add_trace(dots(magenta_gaps, MAGENTA, 13))
for group in (blue_upper_left, blue_left, blue_bottom, blue_middle, blue_upper_right):
    fig.add_trace(dots(group, BLUE))

x_span = x_ticks[-1] - x_ticks[0]
y_span = y_ticks[-1] - y_ticks[0]
in_x = 21 / (R - L)
in_y = 21 / (B - T)

grid = dict(color="black", width=5, dash="21px,41.7px")
shapes = []
for v in x_ticks[1:-1]:
    shapes.append(dict(type="line", layer="below", xref="x", yref="y", x0=v, x1=v, y0=y_ticks[0], y1=y_ticks[-1], line=grid))
for v in y_ticks[1:-1]:
    shapes.append(dict(type="line", layer="below", xref="x", yref="y", x0=x_ticks[0], x1=x_ticks[-1], y0=v, y1=v, line=grid))
tick_line = dict(color="black", width=6)
for v in x_ticks:
    f = (v - x_ticks[0]) / x_span
    shapes.append(dict(type="line", layer="above", xref="paper", yref="paper", x0=f, x1=f, y0=0, y1=in_y, line=tick_line))
    shapes.append(dict(type="line", layer="above", xref="paper", yref="paper", x0=f, x1=f, y0=1 - in_y, y1=1, line=tick_line))
for v in y_ticks:
    f = (v - y_ticks[0]) / y_span
    shapes.append(dict(type="line", layer="above", xref="paper", yref="paper", x0=0, x1=in_x, y0=f, y1=f, line=tick_line))
    shapes.append(dict(type="line", layer="above", xref="paper", yref="paper", x0=1 - in_x, x1=1, y0=f, y1=f, line=tick_line))
shapes.append(dict(type="rect", layer="above", xref="paper", yref="paper", x0=0, x1=1, y0=0, y1=1,
                   line=dict(color="black", width=7)))

FONT = "Liberation Sans"
tick_font = dict(family=FONT, size=88, color="black", weight=700)
common = dict(showgrid=False, zeroline=False, showline=False, tickcolor="black", tickwidth=6)

ann = []


def label(px, py, text, size=88, bold=True, angle=0, family=FONT):
    ann.append(dict(xref="paper", yref="paper", x=(px - OFFSET - L) / (R - L), y=(B - (py - OFFSET)) / (B - T),
                    text=text, showarrow=False, xanchor="center", yanchor="middle", textangle=angle,
                    font=dict(family=family, size=size, color="black", weight=700 if bold else 400)))


# x title
label(1273, 1600, "m")
label(1332, 1637, "s", 62)
label(1332, 1601, "~", 60, False)
label(1490, 1600, "[GeV]")
# y title
cx = 87
label(cx, 1290, "σ", 88, False, -90)
label(cx, 1195, "(pp", 88, True, -90)
label(92, 1057, "→", 110, False, -90, "DejaVu Sans")
label(cx, 968, "s", 88, True, -90)
label(43, 968, "~", 60, False, -90)
label(cx, 931, ")", 88, True, -90)
label(cx, 779, "x Br (", 88, True, -90)
label(cx, 646, "s", 88, True, -90)
label(43, 646, "~", 60, False, -90)
label(92, 551, "→", 110, False, -90, "DejaVu Sans")
label(cx, 322, "ZZ) [pb]", 88, True, -90)

fig.update_layout(
    width=W, height=H, autosize=False, paper_bgcolor="white", plot_bgcolor="rgba(0,0,0,0)",
    margin=dict(l=L, r=W - R, t=T, b=H - B, pad=0), showlegend=False, shapes=shapes, annotations=ann,
    xaxis=dict(range=[x_ticks[0], x_ticks[-1]], tickmode="array", tickvals=x_ticks,
               ticktext=["\u00a0" + str(v) for v in x_ticks], ticks="outside", ticklen=21, mirror="allticks",
               tickfont=tick_font, ticklabelstandoff=12, **common),
    yaxis=dict(range=[y_ticks[0], y_ticks[-1]], tickmode="array", tickvals=y_ticks,
               ticktext=y_tick_text, ticks="outside", ticklen=21, mirror="allticks",
               tickfont=tick_font, ticklabelstandoff=30, **common),
)

fig.write_html("out.html")
